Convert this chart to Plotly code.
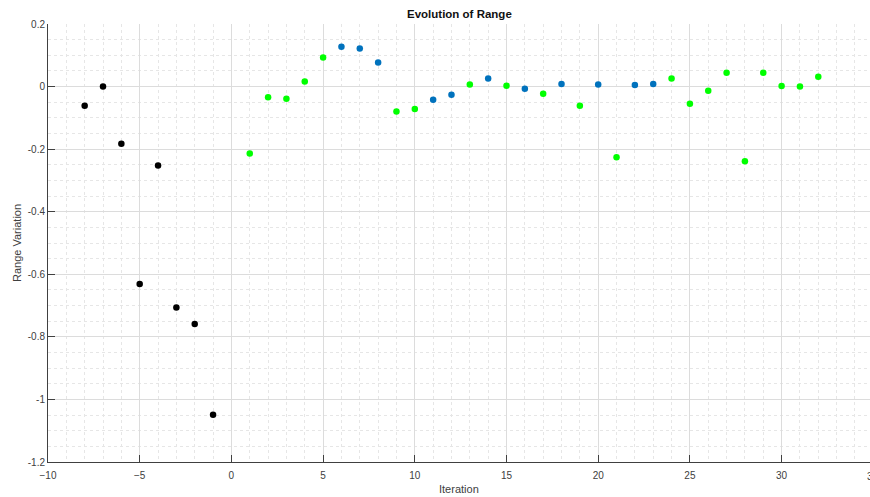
import plotly.graph_objects as go

# Data
black_x = [-8, -7, -6, -5, -4, -3, -2, -1]
black_y = [-0.061, 0.0, -0.183, -0.631, -0.252, -0.706, -0.759, -1.049]

green_x = [1, 2, 3, 4, 5, 9, 10, 13, 15, 17, 19, 21, 24, 25, 26, 27, 28, 29, 30, 31, 32]
green_y = [-0.214, -0.034, -0.039, 0.016, 0.093, -0.080, -0.072, 0.007, 0.003, -0.023,
           -0.061, -0.226, 0.026, -0.055, -0.013, 0.044, -0.239, 0.044, 0.002, 0.000, 0.031]

blue_x = [6, 7, 8, 11, 12, 14, 16, 18, 20, 22, 23]
blue_y = [0.127, 0.122, 0.077, -0.042, -0.026, 0.026, -0.007, 0.008, 0.007, 0.005, 0.008]

x_ticks = [-10, -5, 0, 5, 10, 15, 20, 25, 30, 35]
y_ticks = [-1.2, -1.0, -0.8, -0.6, -0.4, -0.2, 0.0, 0.2]
y_tick_labels = ["-1.2", "-1", "-0.8", "-0.6", "-0.4", "-0.2", "0", "0.2"]

title_text = "Evolution of Range"
x_title = "Iteration"
y_title = "Range Variation"

FONT = "Liberation Sans, Arial, Helvetica, sans-serif"
AX = "#404040"

fig = go.Figure()
for xs, ys, col in [(black_x, black_y, "#000000"),
                    (green_x, green_y, "#00FF00"),
                    (blue_x, blue_y, "#0072BD")]:
    fig.add_trace(go.Scatter(x=xs, y=ys, mode="markers",
                             marker=dict(color=col, size=6.5, line=dict(width=0)),
                             showlegend=False, hoverinfo="x+y"))

fig.update_layout(
    width=870, height=497,
    margin=dict(l=48, r=0, t=24, b=35, autoexpand=False),
    paper_bgcolor="white", plot_bgcolor="white",
    font=dict(family=FONT, size=10, color=AX),
    showlegend=False,
)

fig.update_xaxes(
    range=[-10, 34.82], tickvals=x_ticks, ticks="inside", ticklen=7, tickcolor=AX,
    tickwidth=1, showline=True, linecolor=AX, linewidth=1, mirror=False,
    showgrid=True, gridcolor="#dcdcdc", gridwidth=1, zeroline=False, automargin=False,
    ticklabelstandoff=4,
    tickfont=dict(size=10, color=AX, family=FONT),
    minor=dict(dtick=1, showgrid=True, gridcolor="#e6e6e6", griddash="dot", gridwidth=1),
)
fig.update_yaxes(
    range=[-1.2, 0.2], tickvals=y_ticks, ticktext=y_tick_labels, ticks="inside",
    ticklen=7, tickcolor=AX, tickwidth=1, showline=True, linecolor=AX, linewidth=1,
    showgrid=True, gridcolor="#dcdcdc", gridwidth=1, zeroline=False, automargin=False,
    tickfont=dict(size=10, color=AX, family=FONT),
    minor=dict(dtick=0.05, showgrid=True, gridcolor="#e6e6e6", griddash="dot", gridwidth=1),
)

fig.add_annotation(text="<b>" + title_text + "</b>", xref="paper", yref="paper",
                   x=0.5, y=1, yshift=10, yanchor="middle", showarrow=False,
                   font=dict(size=11.5, color="#111111", family=FONT))
fig.add_annotation(text=x_title, xref="paper", yref="paper", x=0.5, y=0,
                   yshift=-27, yanchor="middle", showarrow=False,
                   font=dict(size=11, color=AX, family=FONT))
fig.add_annotation(text=y_title, xref="paper", yref="paper", x=0, y=0.5,
                   xshift=-31, xanchor="center", textangle=-90, showarrow=False,
                   font=dict(size=11, color=AX, family=FONT))
# the tick label at 35 sits partly outside the window, as in the reference
fig.add_annotation(text="35", xref="paper", yref="paper", x=1 + 3.4 / 822, y=0,
                   xanchor="center", yanchor="middle", yshift=-14, showarrow=False,
                   font=dict(size=10, color=AX, family=FONT))

fig.write_html(
    "out.html",
    config={"responsive": False, "displayModeBar": False},
    default_width="870px", default_height="497px",
    post_script="document.body.style.margin='0';document.body.style.overflow='hidden';",
)
